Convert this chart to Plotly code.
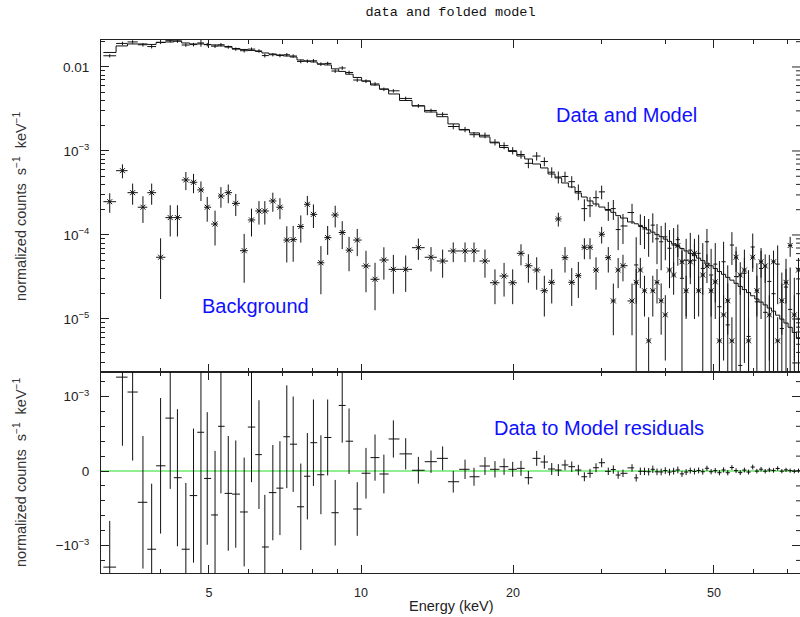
import numpy as np
import plotly.graph_objects as go

# ---- spectrum: bin centres (keV) ----
energy = [
    3.18, 3.37, 3.53, 3.70, 3.85, 4.01, 4.19, 4.33, 4.50, 4.66, 4.82, 4.96, 5.14,
    5.28, 5.46, 5.65, 5.87, 6.07, 6.28, 6.45, 6.69, 6.91, 7.13, 7.34, 7.60, 7.83,
    8.05, 8.33, 8.59, 8.89, 9.18, 9.47, 9.83, 10.23, 10.66, 11.10, 11.59, 12.26, 12.99,
    13.76, 14.51, 15.23, 16.07, 16.74, 17.60, 18.42, 19.20, 19.97, 20.74, 21.45, 22.28,
    23.07, 23.86, 24.59, 25.35, 26.14, 26.94, 27.69, 28.41, 29.20, 29.96, 30.88, 31.60,
    32.30, 33.02,
    34.41, 35.07, 35.74, 36.42, 37.12, 37.83, 38.56, 39.30, 40.05, 40.82, 41.60, 42.40,
    43.21, 44.04, 44.88, 45.74, 46.62, 47.51, 48.42, 49.35, 50.29, 51.26, 52.24, 53.24,
    54.26, 55.30, 56.36, 57.44, 58.54, 59.66, 60.80, 61.97, 63.15, 64.36, 65.60, 66.85,
    68.13, 69.44, 70.77, 72.12, 73.51,
]

# folded model (normalized counts s^-1 keV^-1)
model = [
    0.01488, 0.0178, 0.0188, 0.0188, 0.01854, 0.01958, 0.01984, 0.0204, 0.0193, 0.0188,
    0.0188, 0.01854, 0.01828, 0.0178, 0.01754, 0.0166, 0.01616, 0.01572, 0.01529, 0.01468,
    0.01428, 0.0139, 0.01352, 0.01315, 0.01212, 0.01179, 0.01147, 0.01086, 0.01057, 0.0095,
    0.00885, 0.0082, 0.0075, 0.00681, 0.0061, 0.00547, 0.00477, 0.00399, 0.00344,
    0.00291, 0.00256, 0.0021, 0.00178, 0.00164, 0.00147, 0.00125, 0.0011, 0.000987,
    0.000872, 0.000803, 0.0007, 0.000628, 0.000532, 0.000477, 0.000416, 0.000373,
    0.000316, 0.000283, 0.000254, 0.000234, 0.000215, 0.000201, 0.000186, 0.00017, 0.000159,
    1.43e-4, 1.36e-4, 1.30e-4, 1.23e-4, 1.15e-4, 1.08e-4, 1.01e-4, 9.55e-5, 8.93e-5,
    8.39e-5, 7.85e-5, 7.36e-5, 6.89e-5, 6.45e-5, 6.04e-5, 5.67e-5, 5.30e-5, 4.95e-5,
    4.62e-5, 4.30e-5, 3.99e-5, 3.67e-5, 3.40e-5, 3.13e-5, 2.90e-5, 2.66e-5, 2.44e-5,
    2.24e-5, 2.06e-5, 1.89e-5, 1.73e-5, 1.59e-5, 1.47e-5, 1.35e-5, 1.24e-5, 1.11e-5,
    9.97e-6, 8.96e-6, 7.96e-6, 6.92e-6, 5.85e-6,
]

# source data and 1-sigma errors
source = [
    0.01359, 0.01906, 0.01986, 0.01838, 0.01749, 0.01965, 0.02055, 0.02031, 0.01825, 0.01847,
    0.01932, 0.01844, 0.01769, 0.0184, 0.01724, 0.01629, 0.01561, 0.01631, 0.01551, 0.01366,
    0.01399, 0.01367, 0.01398, 0.01351, 0.01164, 0.01172, 0.01185, 0.01081, 0.01102, 0.00894,
    0.00973, 0.0086, 0.00699, 0.00678, 0.00628, 0.00543, 0.0052, 0.00422, 0.00345,
    0.003035, 0.00273, 0.001956, 0.001803, 0.001563, 0.001537, 0.001273, 0.001158, 0.00101,
    0.000908, 0.000713, 0.00087, 0.000749, 0.000559, 0.00049, 0.000497, 0.000431,
    0.000329, 0.000206, 0.000223, 0.000278, 0.000326, 0.000197, 0.000206, 0.000116, 0.000128,
    1.85e-4, 4.4e-5, 1.26e-4, 1.18e-4, 1.05e-4, 1.31e-4, 9.0e-5, 8.3e-5, 9.5e-5,
    6.95e-5, 7.6e-5, 8.8e-5, 3.05e-5, 5.0e-5, 6.6e-5, 5.0e-5, 6.05e-5, 4.0e-5,
    8.3e-5, 3.34e-5, 4.5e-5, 1.4e-5, 4.8e-5, 8.5e-6, 7.6e-5, 3.2e-5, 2.8e-6,
    3.5e-5, 6.2e-6, 7.2e-5, 1.6e-5, 4.0e-5, 1.2e-5, 2.8e-5, 2.0e-5, 4.5e-5,
    7.7e-6, 2.4e-5, 1.3e-5, 3.0e-6, 1.0e-5,
]
source_err = [
    0.00062, 0.00092, 0.00092, 0.00089, 0.00088, 0.00091, 0.00095, 0.00092, 0.00089, 0.0009,
    0.0019, 0.00089, 0.00086, 0.0009, 0.00077, 0.00072, 0.00073, 0.00074, 0.00073, 0.0007,
    0.00064, 0.00063, 0.00069, 0.00064, 0.00058, 0.00058, 0.00058, 0.00053, 0.00051, 0.00044,
    0.0005, 0.00044, 0.00036, 0.00034, 0.00031, 0.00026, 0.00025, 0.00021, 0.00018,
    0.00015, 0.00016, 0.000145, 0.00013, 0.00012, 0.00012, 0.00011, 0.00011, 0.0001,
    0.0001, 0.00009, 0.0001, 0.00009, 0.00008, 0.00008, 0.00007, 0.00007,
    0.00007, 0.00006, 0.00006, 0.00006, 0.00006, 0.00005, 0.000055, 0.00005, 0.00005,
    5.0e-5, 5.0e-5, 5.0e-5, 5.0e-5, 5.0e-5, 5.0e-5, 4.5e-5, 4.5e-5, 4.5e-5,
    4.5e-5, 4.5e-5, 4.5e-5, 4.0e-5, 4.0e-5, 4.0e-5, 4.0e-5, 4.0e-5, 4.0e-5,
    3.5e-5, 3.5e-5, 3.5e-5, 3.5e-5, 3.5e-5, 3.5e-5, 3.2e-5, 3.2e-5, 3.2e-5,
    3.2e-5, 3.2e-5, 3.2e-5, 3.0e-5, 3.0e-5, 3.0e-5, 3.0e-5, 3.0e-5, 3.0e-5,
    2.8e-5, 2.8e-5, 2.8e-5, 2.8e-5, 2.8e-5,
]

# background spectrum and errors
background = [
    2.49e-4, 5.83e-4, 3.19e-4, 2.14e-4, 3.19e-4, 5.43e-5, 1.61e-4, 1.61e-4, 4.52e-4, 4.24e-4,
    3.44e-4, 2.14e-4, 1.35e-4, 2.91e-4, 3.19e-4, 2.38e-4, 6.5e-5, 1.51e-4, 1.93e-4, 1.93e-4,
    2.54e-4, 2.14e-4, 8.7e-5, 8.8e-5, 1.26e-4, 2.32e-4, 1.76e-4, 4.67e-5, 9.3e-5, 1.73e-4,
    1.07e-4, 6.6e-5, 8.7e-5, 4.28e-5, 2.97e-5, 5.04e-5, 3.9e-5, 3.9e-5, 7.06e-5,
    5.43e-5, 4.9e-5, 6.45e-5, 6.45e-5, 6.45e-5, 4.9e-5, 2.7e-5, 3.25e-5, 2.7e-5,
    6.05e-5, 4.3e-5, 3.83e-5, 2.17e-5, 2.73e-5, 1.55e-4, 5.37e-5, 2.73e-5,
    3.28e-5, 7.14e-5, 7.14e-5, 3.83e-5, 1.02e-4, 5.37e-5, 1.64e-5, 3.83e-5, 4.31e-5,
    1.64e-5, 2.73e-5, 3.83e-5, 2.17e-5, 5.5e-6, 2.17e-5, 2.73e-5, 1.65e-5, 1.12e-5,
    3.83e-5, 3.34e-5, 7.47e-5, 4.8e-5, 2.17e-5, 4.8e-5, 6.05e-5, 2.17e-5, 3.34e-5,
    4.28e-5, 2.17e-5, 2.77e-5, 5.5e-6, 1.12e-5, 1.65e-5, 5.5e-6, 5.43e-5, 3.34e-5,
    3.83e-5, 5.5e-6, 5.43e-5, 2.17e-5, 4.8e-5, 4.28e-5, 1.12e-5, 4.8e-5, 5.5e-6,
    1.65e-5, 2.73e-5, 7.5e-5, 1.12e-5, 3.83e-5,
]
background_err = [
    6.5e-5, 1.1e-4, 9.0e-5, 7.5e-5, 9.0e-5, 3.7e-5, 6.5e-5, 6.5e-5, 1.1e-4, 1.1e-4,
    9.0e-5, 7.0e-5, 6.0e-5, 8.0e-5, 8.0e-5, 7.0e-5, 3.8e-5, 5.5e-5, 6.0e-5, 6.0e-5,
    6.5e-5, 6.0e-5, 4.0e-5, 4.0e-5, 4.5e-5, 6.0e-5, 5.5e-5, 2.7e-5, 3.5e-5, 5.0e-5,
    3.9e-5, 2.9e-5, 3.1e-5, 2.2e-5, 1.7e-5, 2.1e-5, 1.9e-5, 1.8e-5, 2.0e-5,
    1.75e-5, 1.8e-5, 1.7e-5, 1.7e-5, 1.7e-5, 1.8e-5, 1.2e-5, 1.4e-5, 1.2e-5,
    1.7e-5, 1.6e-5, 1.6e-5, 1.1e-5, 1.2e-5, 2.9e-5, 1.8e-5, 1.3e-5,
    1.5e-5, 2.0e-5, 2.0e-5, 1.6e-5, 2.3e-5, 1.8e-5, 1.0e-5, 1.5e-5, 1.5e-5,
    1.0e-5, 1.2e-5, 1.5e-5, 1.1e-5, 5.0e-6, 1.1e-5, 1.2e-5, 1.0e-5, 8.0e-6,
    1.5e-5, 1.4e-5, 2.0e-5, 1.7e-5, 1.1e-5, 1.7e-5, 1.8e-5, 1.1e-5, 1.4e-5,
    1.6e-5, 1.1e-5, 1.2e-5, 5.0e-6, 8.0e-6, 1.0e-5, 5.0e-6, 1.8e-5, 1.4e-5,
    1.5e-5, 5.0e-6, 1.8e-5, 1.1e-5, 1.7e-5, 1.6e-5, 8.0e-6, 1.7e-5, 5.0e-6,
    1.0e-5, 1.2e-5, 2.0e-5, 8.0e-6, 1.5e-5,
]

# axis tick labels
x_major = [5, 10, 20, 50]
x_minor = [4, 6, 7, 8, 9, 30, 40, 60, 70]
y_major = [1e-5, 1e-4, 1e-3, 1e-2]
y_major_text = ["10<sup>\u22125</sup>", "10<sup>\u22124</sup>", "10<sup>\u22123</sup>", "0.01"]
r_major = [-1e-3, 0.0, 1e-3]
r_major_text = ["\u221210<sup>\u22123</sup>", "0", "10<sup>\u22123</sup>"]

arrays = [energy, model, source, source_err, background, background_err]
if len({len(a) for a in arrays}) != 1:
    raise ValueError("spectrum arrays differ in length")

E = np.array(energy)
mod = np.array(model)
src = np.array(source)
src_e = np.array(source_err)
bkg = np.array(background)
bkg_e = np.array(background_err)

# channel edges from geometric midpoints of the bin centres
mids = np.sqrt(E[:-1] * E[1:])
lo = np.concatenate([[E[0] ** 2 / mids[0]], mids])
hi = np.concatenate([mids, [E[-1] ** 2 / mids[-1]]])
xm = E - lo
xp = hi - E
resid = src - mod

INK = "#111111"
AX = "#222222"
FONT = "Liberation Sans"

def xerr():
    return dict(type="data", array=xp, arrayminus=xm, symmetric=False,
                color=INK, thickness=1, width=0)

def yerr(e):
    return dict(type="data", array=e, color=INK, thickness=1, width=0)

fig = go.Figure()

# folded model as a histogram
fig.add_trace(go.Scatter(
    x=np.append(lo, hi[-1]), y=np.append(mod, mod[-1]),
    mode="lines", line=dict(color=INK, width=1, shape="hv"),
    xaxis="x", yaxis="y", hoverinfo="skip"))

# source spectrum
fig.add_trace(go.Scatter(
    x=E, y=src, mode="markers",
    marker=dict(size=1, color="rgba(0,0,0,0)"),
    error_x=xerr(), error_y=yerr(src_e), xaxis="x", yaxis="y"))

# background spectrum
fig.add_trace(go.Scatter(
    x=E, y=bkg, mode="markers",
    marker=dict(symbol="x-thin", size=5, color=INK, line=dict(width=1, color=INK)),
    error_x=xerr(), error_y=yerr(bkg_e), xaxis="x", yaxis="y"))

# residuals
fig.add_trace(go.Scatter(
    x=E, y=resid, mode="markers",
    marker=dict(size=1, color="rgba(0,0,0,0)"),
    error_x=xerr(), error_y=yerr(src_e), xaxis="x2", yaxis="y2"))

xr = [0.48515, 1.86931]
split = 201 / 533

common_x = dict(
    type="log", range=xr, showgrid=False, zeroline=False,
    showline=True, linecolor=AX, linewidth=1, mirror="allticks",
    ticks="inside", ticklen=8, tickwidth=1, tickcolor=AX,
    tickmode="array", tickvals=x_major,
    minor=dict(tickmode="array", tickvals=x_minor, ticklen=4, tickwidth=1,
               tickcolor=AX, ticks="inside"),
)
common_y = dict(
    showgrid=False, zeroline=False, showline=True, linecolor=AX, linewidth=1,
    mirror=False, ticks="inside", ticklen=8, tickwidth=1, tickcolor=AX,
    tickfont=dict(family=FONT, size=13.5, color=AX), ticklabelstandoff=8,
)

y_minor = [k * 10.0 ** d for d in range(-6, -1) for k in range(2, 10)]

fig.update_layout(
    width=800, height=617,
    margin=dict(l=101, r=0, t=40, b=44),
    paper_bgcolor="white", plot_bgcolor="white",
    showlegend=False,
    title=dict(text="data and folded model", x=0.5, xref="paper", xanchor="center",
               y=1 - 11 / 617, yref="container", yanchor="middle",
               font=dict(family="Liberation Mono", size=13.5, color="#111")),
    xaxis=dict(common_x, anchor="y", showticklabels=False),
    xaxis2=dict(common_x, anchor="y2", matches="x", showticklabels=True,
                tickfont=dict(family=FONT, size=12.5, color=AX),
                ticklabelstandoff=8),
    yaxis=dict(common_y, type="log", domain=[split, 1], range=[-5.631, -1.679],
               tickmode="array", tickvals=y_major, ticktext=y_major_text,
               minor=dict(tickmode="array", tickvals=y_minor, ticklen=4,
                          tickwidth=1, tickcolor=AX, ticks="inside")),
    yaxis2=dict(common_y, domain=[0, split], range=[-1.369e-3, 1.329e-3],
                tickmode="array", tickvals=r_major, ticktext=r_major_text,
                minor=dict(tickmode="linear", tick0=0, dtick=2e-4, ticklen=4,
                           tickwidth=1, tickcolor=AX, ticks="inside")),
)

# zero line of the residual panel
fig.add_shape(type="line", xref="x2 domain", x0=0, x1=1, yref="y2", y0=0, y1=0,
              line=dict(color="#22dd22", width=1), layer="below")

# short inward ticks on the right-hand edge of both panels
right_ticks = [(v, "y", 8) for v in y_major] + [(v, "y", 4) for v in y_minor] \
    + [(v, "y2", 8) for v in r_major] \
    + [(k * 2e-4, "y2", 4) for k in range(-6, 7) if k % 5 != 0]
for v, yr, ln in right_ticks:
    fig.add_shape(type="line", xref="paper", xsizemode="pixel", xanchor=1,
                  x0=-ln, x1=0, yref=yr, y0=v, y1=v, line=dict(color=AX, width=1))

ytitle = "normalized counts  s<sup>\u22121</sup>  keV<sup>\u22121</sup>"
for yc in (0.6886, 0.1895):
    fig.add_annotation(text=ytitle, xref="paper", yref="paper", x=-0.1159, y=yc,
                       textangle=-90, showarrow=False, xanchor="center", yanchor="middle",
                       font=dict(family=FONT, size=14.5, color="#333"))

fig.add_annotation(text="Energy (keV)", xref="paper", yref="paper", x=0.5021, y=-0.0619,
                   showarrow=False, xanchor="center", yanchor="middle",
                   font=dict(family=FONT, size=14.5, color=AX))

blue = dict(family=FONT, size=20, color="#1010ff")
for txt, px, py in [("Data and Model", 0.7511, 0.8593),
                    ("Background", 0.2210, 0.5009),
                    ("Data to Model residuals", 0.7124, 0.2720)]:
    fig.add_annotation(text=txt, xref="paper", yref="paper", x=px, y=py,
                       showarrow=False, xanchor="center", yanchor="middle", font=blue)

fig.write_html("out.html")
